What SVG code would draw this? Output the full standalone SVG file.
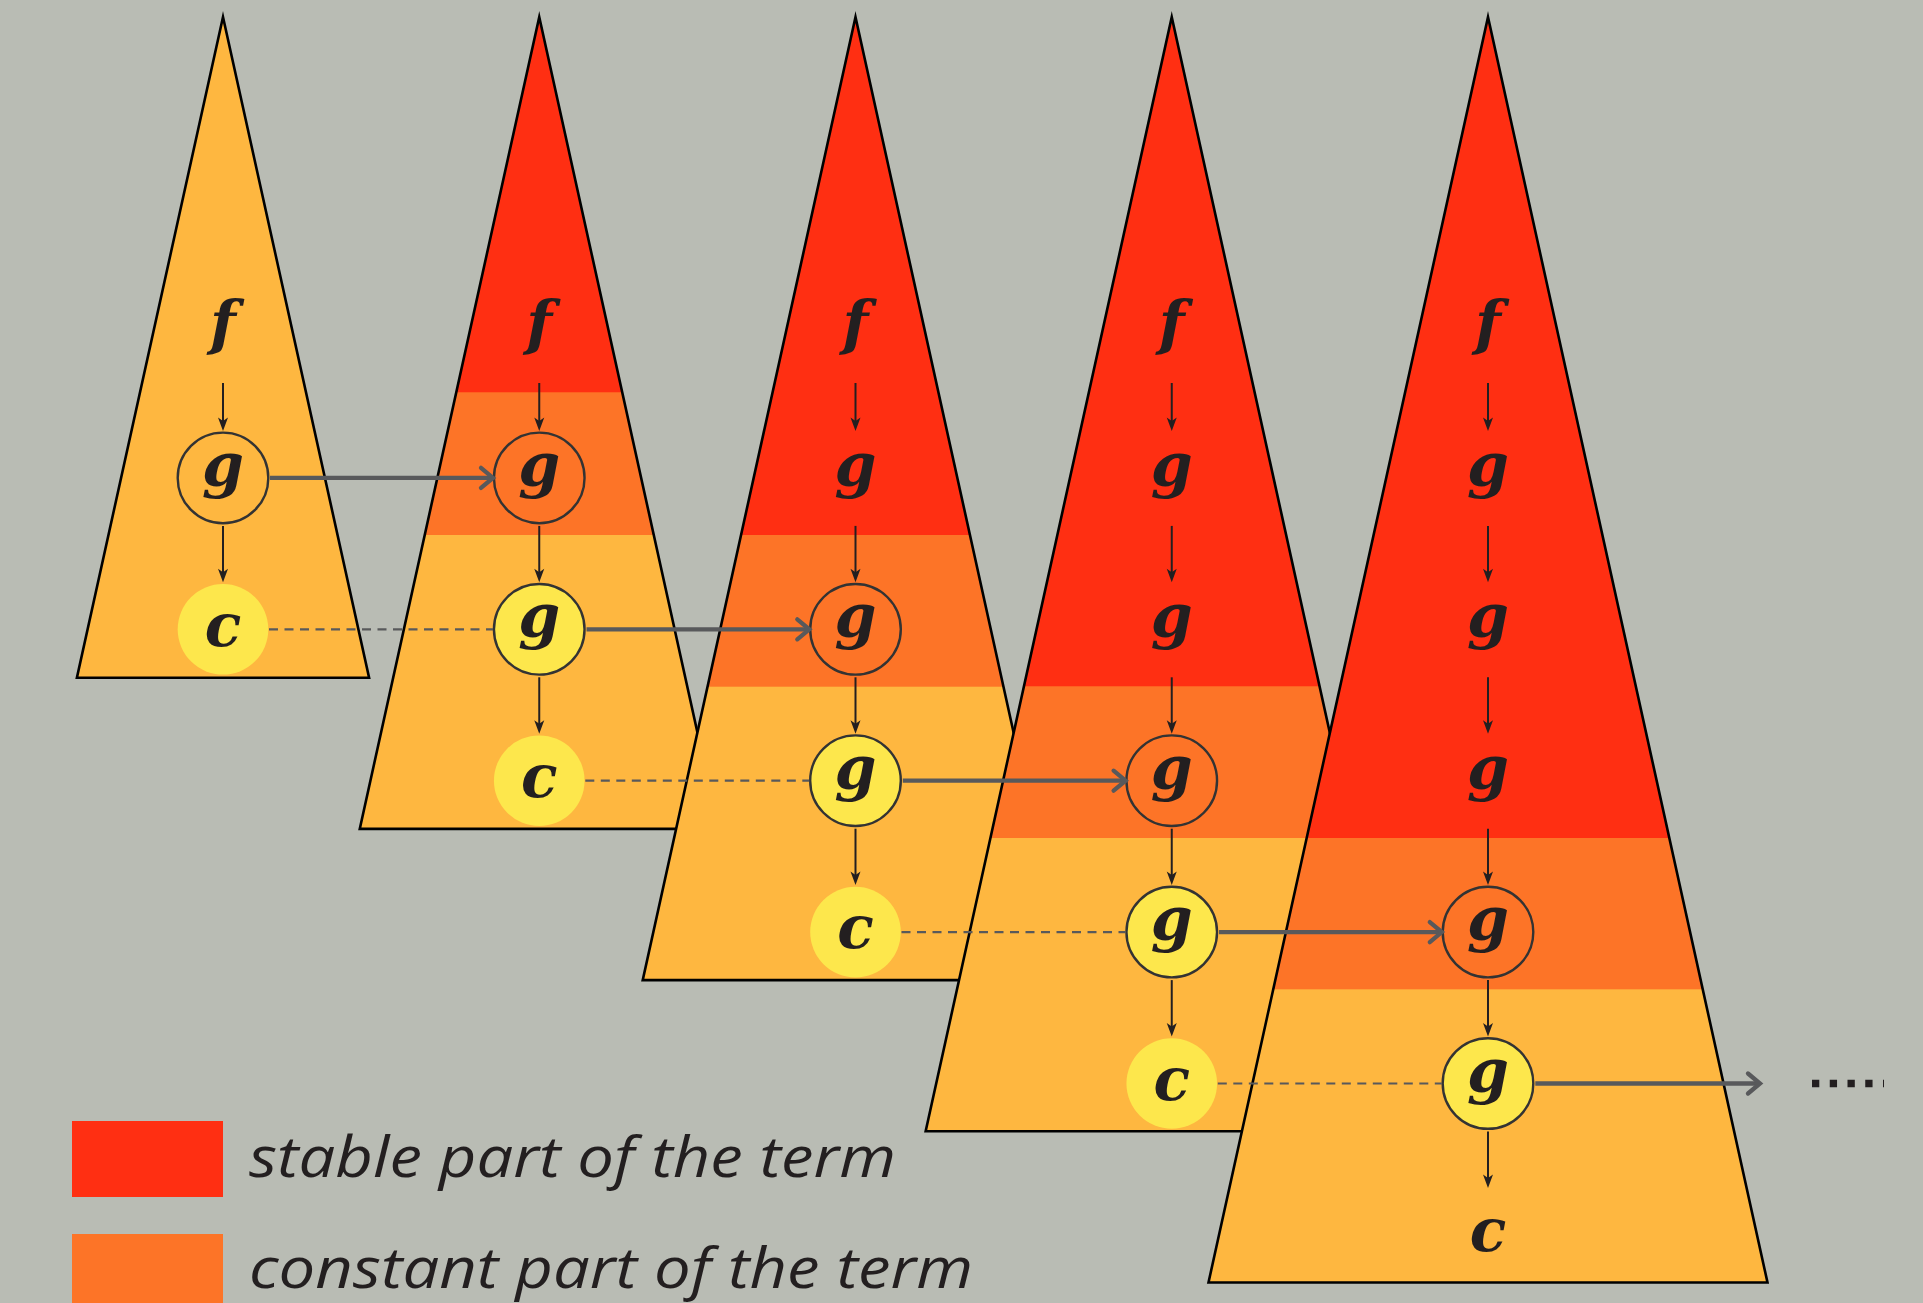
<svg xmlns="http://www.w3.org/2000/svg" width="1923" height="1303" viewBox="0 0 1923 1303">
<style>
.tri{stroke:#000;stroke-width:2.6;fill:none;stroke-linejoin:miter;stroke-miterlimit:12}
.red{fill:#ff2f12}.org{fill:#fd7427}.lt{fill:#feb740}
.ring{fill:none;stroke:#333;stroke-width:2.4}
.yring{fill:#fde74c;stroke:#333;stroke-width:2.4}
.cdot{fill:#fde74c}
.lbl{font-family:"DejaVu Serif","Liberation Serif",serif;font-style:italic;font-weight:bold;font-size:60px;fill:#231f20;text-anchor:middle}
.thin{stroke:#231f20;stroke-width:2;fill:none;marker-end:url(#ah)}
.thick{stroke:#58595b;stroke-width:4.3;fill:none;marker-end:url(#ch)}
.dash{stroke:#58595b;stroke-width:2.2;fill:none;stroke-dasharray:9 6.5}
.leg{font-family:"Open Sans","DejaVu Sans",sans-serif;font-style:italic;font-size:57px;fill:#231f20}
</style>
<defs>
<marker id="ah" markerUnits="userSpaceOnUse" orient="auto" overflow="visible" refX="0" refY="0" markerWidth="1" markerHeight="1">
<path d="M5,0 L-8.5,-5 L-5,0 L-8.5,5 Z" fill="#231f20"/>
</marker>
<marker id="ch" markerUnits="userSpaceOnUse" orient="auto" overflow="visible" refX="0" refY="0" markerWidth="1" markerHeight="1">
<path d="M-12,-10 Q-3,-2.5 0,0 Q-3,2.5 -12,10" fill="none" stroke="#58595b" stroke-width="4.3" stroke-linecap="round"/>
</marker>
<clipPath id="c1"><polygon points="539.25,17 718.75,828.9 359.75,828.9"/></clipPath>
<clipPath id="c2"><polygon points="855.5,17 1068.3,980.1 642.7,980.1"/></clipPath>
<clipPath id="c3"><polygon points="1171.75,17 1417.85,1131.3 925.65,1131.3"/></clipPath>
<clipPath id="c4"><polygon points="1488,17 1767.5,1282.5 1208.5,1282.5"/></clipPath>
</defs>
<rect width="1923" height="1303" fill="#b9bcb4"/>

<g id="term0">
<polygon class="lt" points="223,17 369.1,677.7 76.9,677.7"/>
<polygon class="tri" points="223,17 369.1,677.7 76.9,677.7"/>
</g>
<g id="term1">
<g clip-path="url(#c1)">
<rect class="lt" x="350" y="0" width="380" height="840"/>
<rect class="red" x="350" y="0" width="380" height="392.7"/>
<rect class="org" x="350" y="392.7" width="380" height="142.3"/>
</g>
<polygon class="tri" points="539.25,17 718.75,828.9 359.75,828.9"/>
</g>
<g id="term2">
<g clip-path="url(#c2)">
<rect class="lt" x="630" y="0" width="450" height="990"/>
<rect class="red" x="630" y="0" width="450" height="535"/>
<rect class="org" x="630" y="535" width="450" height="151.7"/>
</g>
<polygon class="tri" points="855.5,17 1068.3,980.1 642.7,980.1"/>
</g>
<g id="term3">
<g clip-path="url(#c3)">
<rect class="lt" x="910" y="0" width="520" height="1140"/>
<rect class="red" x="910" y="0" width="520" height="686.7"/>
<rect class="org" x="910" y="686.7" width="520" height="151.3"/>
</g>
<polygon class="tri" points="1171.75,17 1417.85,1131.3 925.65,1131.3"/>
</g>
<g id="term4">
<g clip-path="url(#c4)">
<rect class="lt" x="1200" y="0" width="580" height="1290"/>
<rect class="red" x="1200" y="0" width="580" height="838"/>
<rect class="org" x="1200" y="838" width="580" height="151.3"/>
</g>
<polygon class="tri" points="1488,17 1767.5,1282.5 1208.5,1282.5"/>
</g>

<g id="nodes-circles">
<circle class="ring" cx="223" cy="477.9" r="45.3"/>
<circle class="cdot" cx="223" cy="629.3" r="45.3"/>
<circle class="ring" cx="539.25" cy="477.9" r="45.3"/>
<circle class="yring" cx="539.25" cy="629.3" r="45.3"/>
<circle class="cdot" cx="539.25" cy="780.7" r="45.3"/>
<circle class="ring" cx="855.5" cy="629.3" r="45.3"/>
<circle class="yring" cx="855.5" cy="780.7" r="45.3"/>
<circle class="cdot" cx="855.5" cy="932.1" r="45.3"/>
<circle class="ring" cx="1171.75" cy="780.7" r="45.3"/>
<circle class="yring" cx="1171.75" cy="932.1" r="45.3"/>
<circle class="cdot" cx="1171.75" cy="1083.5" r="45.3"/>
<circle class="ring" cx="1488" cy="932.1" r="45.3"/>
<circle class="yring" cx="1488" cy="1083.5" r="45.3"/>
</g>

<g id="connectors">
<line class="thin" x1="223" y1="383" x2="223" y2="425.9"/>
<line class="thin" x1="223" y1="525.9" x2="223" y2="577.3"/>
<line class="thin" x1="539.25" y1="383" x2="539.25" y2="425.9"/>
<line class="thin" x1="539.25" y1="525.9" x2="539.25" y2="577.3"/>
<line class="thin" x1="539.25" y1="677.3" x2="539.25" y2="728.7"/>
<line class="thin" x1="855.5" y1="383" x2="855.5" y2="425.9"/>
<line class="thin" x1="855.5" y1="525.9" x2="855.5" y2="577.3"/>
<line class="thin" x1="855.5" y1="677.3" x2="855.5" y2="728.7"/>
<line class="thin" x1="855.5" y1="828.7" x2="855.5" y2="880.1"/>
<line class="thin" x1="1171.75" y1="383" x2="1171.75" y2="425.9"/>
<line class="thin" x1="1171.75" y1="525.9" x2="1171.75" y2="577.3"/>
<line class="thin" x1="1171.75" y1="677.3" x2="1171.75" y2="728.7"/>
<line class="thin" x1="1171.75" y1="828.7" x2="1171.75" y2="880.1"/>
<line class="thin" x1="1171.75" y1="980.1" x2="1171.75" y2="1031.5"/>
<line class="thin" x1="1488" y1="383" x2="1488" y2="425.9"/>
<line class="thin" x1="1488" y1="525.9" x2="1488" y2="577.3"/>
<line class="thin" x1="1488" y1="677.3" x2="1488" y2="728.7"/>
<line class="thin" x1="1488" y1="828.7" x2="1488" y2="880.1"/>
<line class="thin" x1="1488" y1="980.1" x2="1488" y2="1031.5"/>
<line class="thin" x1="1488" y1="1131.5" x2="1488" y2="1183"/>

<line class="thick" x1="270" y1="477.9" x2="493" y2="477.9"/>
<line class="thick" x1="586.5" y1="629.3" x2="809.3" y2="629.3"/>
<line class="thick" x1="902.8" y1="780.7" x2="1125.6" y2="780.7"/>
<line class="thick" x1="1219" y1="932.1" x2="1441.8" y2="932.1"/>
<line class="thick" x1="1535.3" y1="1083.5" x2="1760" y2="1083.5"/>

<line class="dash" x1="269" y1="629.3" x2="493" y2="629.3"/>
<line class="dash" x1="585.3" y1="780.7" x2="809.3" y2="780.7"/>
<line class="dash" x1="901.5" y1="932.1" x2="1125.6" y2="932.1"/>
<line class="dash" x1="1217.8" y1="1083.5" x2="1441.8" y2="1083.5"/>

<line x1="1812" y1="1083.5" x2="1884" y2="1083.5" stroke="#231f20" stroke-width="7.3" stroke-dasharray="7.3 10.45"/>
</g>

<g id="labels">
<text class="lbl" x="223" y="343.5">f</text>
<text class="lbl" x="223" y="486">g</text>
<text class="lbl" x="223" y="645.5">c</text>
<text class="lbl" x="539.25" y="343.5">f</text>
<text class="lbl" x="539.25" y="486">g</text>
<text class="lbl" x="539.25" y="637.3">g</text>
<text class="lbl" x="539.25" y="796.9">c</text>
<text class="lbl" x="855.5" y="343.5">f</text>
<text class="lbl" x="855.5" y="486">g</text>
<text class="lbl" x="855.5" y="637.3">g</text>
<text class="lbl" x="855.5" y="788.7">g</text>
<text class="lbl" x="855.5" y="948.3">c</text>
<text class="lbl" x="1171.75" y="343.5">f</text>
<text class="lbl" x="1171.75" y="486">g</text>
<text class="lbl" x="1171.75" y="637.3">g</text>
<text class="lbl" x="1171.75" y="788.7">g</text>
<text class="lbl" x="1171.75" y="940.1">g</text>
<text class="lbl" x="1171.75" y="1099.7">c</text>
<text class="lbl" x="1488" y="343.5">f</text>
<text class="lbl" x="1488" y="486">g</text>
<text class="lbl" x="1488" y="637.3">g</text>
<text class="lbl" x="1488" y="788.7">g</text>
<text class="lbl" x="1488" y="940.1">g</text>
<text class="lbl" x="1488" y="1091.5">g</text>
<text class="lbl" x="1488" y="1251.1">c</text>
</g>

<g id="legend">
<rect class="red" x="72" y="1121" width="151" height="76"/>
<text class="leg" x="249" y="1177" textLength="647" lengthAdjust="spacingAndGlyphs">stable part of the term</text>
<rect class="org" x="72" y="1234" width="151" height="70"/>
<text class="leg" x="249" y="1288" textLength="724" lengthAdjust="spacingAndGlyphs">constant part of the term</text>
</g>
</svg>
